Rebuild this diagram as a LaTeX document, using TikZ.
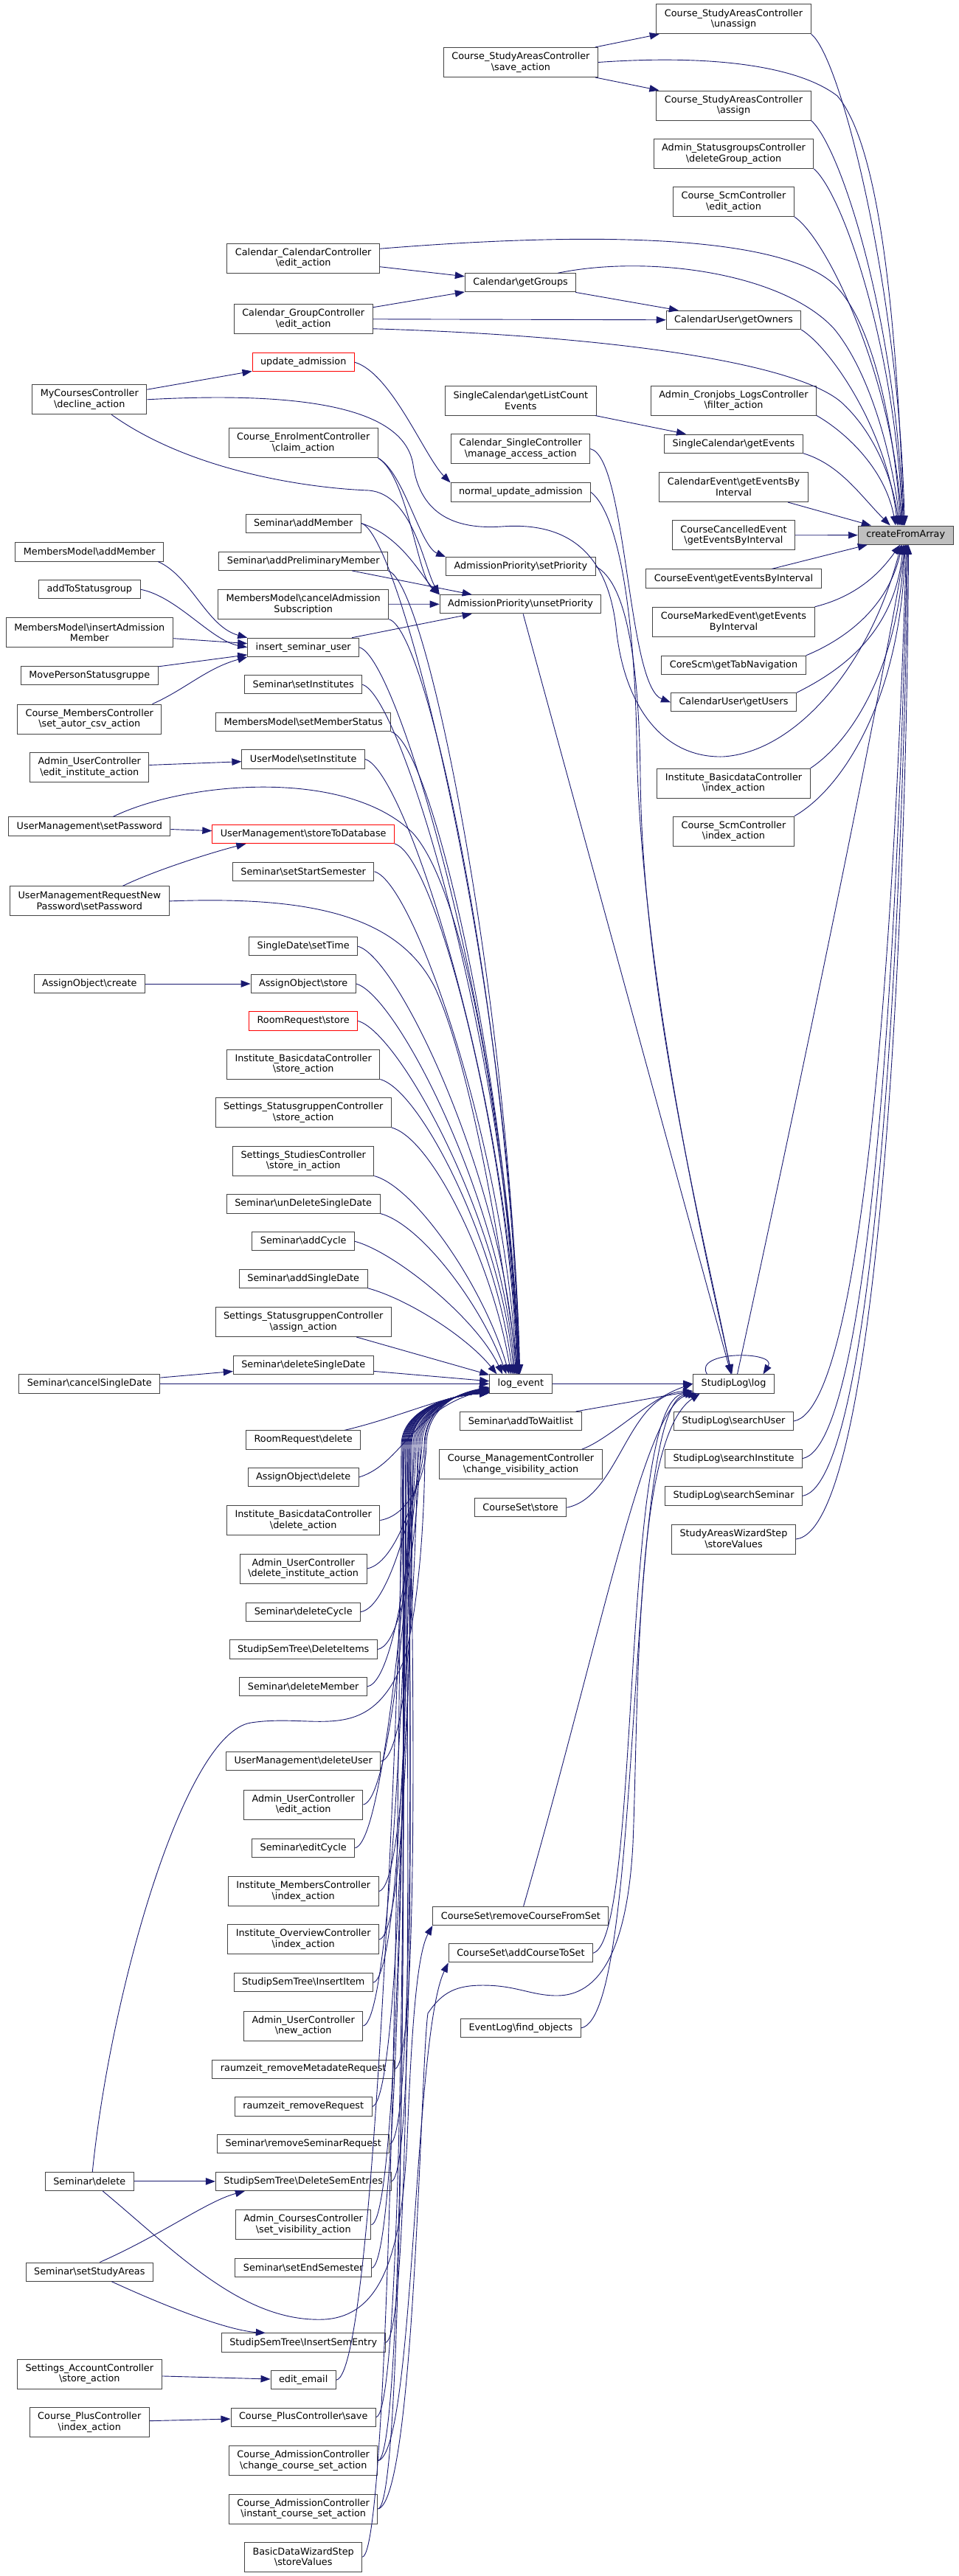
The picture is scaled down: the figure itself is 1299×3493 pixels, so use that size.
\documentclass[tikz,border=0pt]{standalone}
\usepackage{fontspec}
\setmainfont{DejaVu Sans}
\usepackage{tikz}
\usetikzlibrary{arrows.meta, positioning, calc}
\definecolor{edgeblue}{HTML}{191970}
\definecolor{nodeborder}{HTML}{444444}
\definecolor{rootfill}{HTML}{BFBFBF}
\newcommand{\bsl}{\textbackslash}
\newcommand{\dxfont}{\fontsize{12.8}{14.6}\selectfont}
\tikzset{
  fn/.style={rectangle, draw=nodeborder, fill=white, line width=1pt, minimum height=25.2pt, inner xsep=11pt, inner ysep=2pt, align=center, font=\dxfont},
  fn2/.style={fn, minimum height=40pt},
  trunc/.style={draw=red},
  root/.style={fill=rootfill},
  call/.style={draw=edgeblue, line width=0.9pt, -{Triangle[length=13pt,width=9.5pt]}},
}
\begin{document}
\begin{tikzpicture}[x=1pt,y=1pt]
\useasboundingbox (0,0) rectangle (1299,-3493);

% root
\node (cfa) [fn, root] at (1227.7,-725.6) {createFromArray};

% direct callers
\node (sacUnassign) [fn2] at (994.5,-25.8) {Course\_StudyAreasController\\\bsl unassign};
\node (sacAssign) [fn2] at (994.5,-143) {Course\_StudyAreasController\\\bsl assign};
\node (asgDeleteGroup) [fn2] at (994.5,-208.5) {Admin\_StatusgroupsController\\\bsl deleteGroup\_action};
\node (scmEdit) [fn2] at (994.5,-273.5) {Course\_ScmController\\\bsl edit\_action};
\node (calGetOwners) [fn] at (994.5,-434) {CalendarUser\bsl getOwners};
\node (cronFilter) [fn2] at (994.5,-543) {Admin\_Cronjobs\_LogsController\\\bsl filter\_action};
\node (scGetEvents) [fn] at (994.5,-601.6) {SingleCalendar\bsl getEvents};
\node (ceByInterval) [fn2] at (994.5,-660.5) {CalendarEvent\bsl getEventsBy\\Interval};
\node (cceByInterval) [fn2] at (994.5,-725.8) {CourseCancelledEvent\\\bsl getEventsByInterval};
\node (courseEvByInterval) [fn] at (994.5,-784.5) {CourseEvent\bsl getEventsByInterval};
\node (cmeByInterval) [fn2] at (994.5,-843.3) {CourseMarkedEvent\bsl getEvents\\ByInterval};
\node (coreTabNav) [fn] at (994.5,-901.9) {CoreScm\bsl getTabNavigation};
\node (calGetUsers) [fn] at (994.5,-952.3) {CalendarUser\bsl getUsers};
\node (ibdIndex) [fn2] at (994.5,-1062.2) {Institute\_BasicdataController\\\bsl index\_action};
\node (scmIndex) [fn2] at (994.5,-1127.1) {Course\_ScmController\\\bsl index\_action};
\node (slLog) [fn] at (994.5,-1876.4) {StudipLog\bsl log};
\node (slSearchUser) [fn] at (994.5,-1927) {StudipLog\bsl searchUser};
\node (slSearchInst) [fn] at (994.5,-1977.6) {StudipLog\bsl searchInstitute};
\node (slSearchSem) [fn] at (994.5,-2028.4) {StudipLog\bsl searchSeminar};
\node (sawStore) [fn2] at (994.5,-2087) {StudyAreasWizardStep\\\bsl storeValues};

% second rank
\node (sacSave) [fn2] at (705.9,-84.5) {Course\_StudyAreasController\\\bsl save\_action};
\node (calGetGroups) [fn] at (705.6,-383.3) {Calendar\bsl getGroups};
\node (scListCount) [fn2] at (705.9,-543) {SingleCalendar\bsl getListCount\\Events};
\node (csManage) [fn2] at (705.7,-608.6) {Calendar\_SingleController\\\bsl manage\_access\_action};
\node (normalUpd) [fn] at (705.9,-667.5) {normal\_update\_admission};
\node (apSet) [fn] at (705.9,-768.3) {AdmissionPriority\bsl setPriority};
\node (apUnset) [fn] at (705.6,-819.3) {AdmissionPriority\bsl unsetPriority};
\node (logEvent) [fn] at (705.9,-1876.4) {log\_event};
\node (semWaitlist) [fn] at (705.9,-1927) {Seminar\bsl addToWaitlist};
\node (cmcVisibility) [fn2] at (706,-1985.7) {Course\_ManagementController\\\bsl change\_visibility\_action};
\node (csStore) [fn] at (705.6,-2044.2) {CourseSet\bsl store};
\node (csRemove) [fn] at (705.9,-2597.9) {CourseSet\bsl removeCourseFromSet};
\node (csAdd) [fn] at (705.9,-2648.3) {CourseSet\bsl addCourseToSet};
\node (elFind) [fn] at (705.9,-2749.9) {EventLog\bsl find\_objects};

% third rank
\node (calCalEdit) [fn2] at (411.2,-350) {Calendar\_CalendarController\\\bsl edit\_action};
\node (calGroupEdit) [fn2] at (411.2,-432.5) {Calendar\_GroupController\\\bsl edit\_action};
\node (updAdmission) [fn, trunc] at (411.2,-491.2) {update\_admission};
\node (ecClaim) [fn2] at (411.2,-600.7) {Course\_EnrolmentController\\\bsl claim\_action};
\node (semAddMember) [fn] at (411.2,-709.6) {Seminar\bsl addMember};
\node (semAddPrelim) [fn] at (411.2,-760.8) {Seminar\bsl addPreliminaryMember};
\node (mmCancel) [fn2] at (411.2,-819.2) {MembersModel\bsl cancelAdmission\\Subscription};
\node (insSemUser) [fn] at (411.2,-877.8) {insert\_seminar\_user};
\node (semSetInst) [fn] at (411.2,-928.2) {Seminar\bsl setInstitutes};
\node (mmSetStatus) [fn] at (411.2,-979.2) {MembersModel\bsl setMemberStatus};
\node (umSetInst) [fn] at (411.2,-1029.5) {UserModel\bsl setInstitute};
\node (umStore) [fn, trunc] at (411.2,-1131.1) {UserManagement\bsl storeToDatabase};
\node (semStartSem) [fn] at (411.2,-1181.8) {Seminar\bsl setStartSemester};
\node (sdSetTime) [fn] at (411.2,-1283.2) {SingleDate\bsl setTime};
\node (aoStore) [fn] at (411.2,-1334) {AssignObject\bsl store};
\node (rrStore) [fn, trunc] at (411.2,-1384.4) {RoomRequest\bsl store};
\node (ibdStore) [fn2] at (411.2,-1443) {Institute\_BasicdataController\\\bsl store\_action};
\node (sgStore) [fn2] at (411.2,-1508.5) {Settings\_StatusgruppenController\\\bsl store\_action};
\node (stStoreIn) [fn2] at (411.2,-1574) {Settings\_StudiesController\\\bsl store\_in\_action};
\node (semUnDelete) [fn] at (411.2,-1632.4) {Seminar\bsl unDeleteSingleDate};
\node (semAddCycle) [fn] at (411.2,-1683.2) {Seminar\bsl addCycle};
\node (semAddSingle) [fn] at (411.2,-1733.6) {Seminar\bsl addSingleDate};
\node (sgAssign) [fn2] at (411.2,-1792.5) {Settings\_StatusgruppenController\\\bsl assign\_action};
\node (semDelSingle) [fn] at (411.2,-1851.2) {Seminar\bsl deleteSingleDate};
\node (rrDelete) [fn] at (411.2,-1952.4) {RoomRequest\bsl delete};
\node (aoDelete) [fn] at (411.2,-2003) {AssignObject\bsl delete};
\node (ibdDelete) [fn2] at (411.2,-2061.5) {Institute\_BasicdataController\\\bsl delete\_action};
\node (aucDelInst) [fn2] at (411.2,-2127) {Admin\_UserController\\\bsl delete\_institute\_action};
\node (semDelCycle) [fn] at (411.2,-2185.7) {Seminar\bsl deleteCycle};
\node (sstDelItems) [fn] at (411.2,-2236.5) {StudipSemTree\bsl DeleteItems};
\node (semDelMember) [fn] at (411.2,-2286.9) {Seminar\bsl deleteMember};
\node (umDelUser) [fn] at (411.2,-2388.3) {UserManagement\bsl deleteUser};
\node (aucEdit) [fn2] at (411.2,-2447) {Admin\_UserController\\\bsl edit\_action};
\node (semEditCycle) [fn] at (411.2,-2505.7) {Seminar\bsl editCycle};
\node (imIndex) [fn2] at (411.2,-2564.5) {Institute\_MembersController\\\bsl index\_action};
\node (ioIndex) [fn2] at (411.2,-2629.8) {Institute\_OverviewController\\\bsl index\_action};
\node (sstInsItem) [fn] at (411.2,-2688.2) {StudipSemTree\bsl InsertItem};
\node (aucNew) [fn2] at (411.2,-2747) {Admin\_UserController\\\bsl new\_action};
\node (rzMetadate) [fn] at (411.2,-2805.6) {raumzeit\_removeMetadateRequest};
\node (rzRequest) [fn] at (411.2,-2856.4) {raumzeit\_removeRequest};
\node (semRemoveReq) [fn] at (411.2,-2907.3) {Seminar\bsl removeSeminarRequest};
\node (sstDelSem) [fn] at (411.2,-2957.9) {StudipSemTree\bsl DeleteSemEntries};
\node (acSetVis) [fn2] at (411.2,-3016.7) {Admin\_CoursesController\\\bsl set\_visibility\_action};
\node (semEndSem) [fn] at (411.2,-3075.3) {Seminar\bsl setEndSemester};
\node (sstInsSem) [fn] at (411.2,-3176.5) {StudipSemTree\bsl InsertSemEntry};
\node (editEmail) [fn] at (411.2,-3227.2) {edit\_email};
\node (cpSave) [fn] at (411.2,-3277.6) {Course\_PlusController\bsl save};
\node (caChange) [fn2] at (411.2,-3336.7) {Course\_AdmissionController\\\bsl change\_course\_set\_action};
\node (caInstant) [fn2] at (411.2,-3402) {Course\_AdmissionController\\\bsl instant\_course\_set\_action};
\node (bdwStore) [fn2] at (411.2,-3467.2) {BasicDataWizardStep\\\bsl storeValues};

% outer rank
\node (mcDecline) [fn2] at (121.3,-541.8) {MyCoursesController\\\bsl decline\_action};
\node (mmAddMember) [fn] at (121.3,-748.4) {MembersModel\bsl addMember};
\node (addToStatusgroup) [fn] at (121.3,-799.2) {addToStatusgroup};
\node (mmInsert) [fn2] at (121.3,-857.9) {MembersModel\bsl insertAdmission\\Member};
\node (movePerson) [fn] at (121.3,-916.2) {MovePersonStatusgruppe};
\node (cmSetAutor) [fn2] at (121.3,-975.1) {Course\_MembersController\\\bsl set\_autor\_csv\_action};
\node (aucEditInst) [fn2] at (121.3,-1040.5) {Admin\_UserController\\\bsl edit\_institute\_action};
\node (umSetPw) [fn] at (121.3,-1120.5) {UserManagement\bsl setPassword};
\node (umrSetPw) [fn2] at (121.3,-1221.9) {UserManagementRequestNew\\Password\bsl setPassword};
\node (aoCreate) [fn] at (121.3,-1334) {AssignObject\bsl create};
\node (semCancelSingle) [fn] at (121.3,-1876.4) {Seminar\bsl cancelSingleDate};
\node (semDelete) [fn] at (121.3,-2957.9) {Seminar\bsl delete};
\node (semSetStudy) [fn] at (121.3,-3080.6) {Seminar\bsl setStudyAreas};
\node (sacStore) [fn2] at (121.3,-3219.2) {Settings\_AccountController\\\bsl store\_action};
\node (cpIndex) [fn2] at (121.3,-3284.6) {Course\_PlusController\\\bsl index\_action};

% calls into createFromArray
\draw [call] (sacUnassign.south east) .. controls +(40,-30) and +(-8,320) .. (cfa.96);
\draw [call] (sacSave.east) .. controls (960,-74) and (1080,-88) .. (1135,-130) .. controls (1195,-200) and (1216,-450) .. (cfa.100);
\draw [call] (sacAssign.south east) .. controls +(40,-35) and +(-10,280) .. (cfa.104);
\draw [call] (asgDeleteGroup.south east) .. controls +(40,-35) and +(-10,240) .. (cfa.108);
\draw [call] (scmEdit.south east) .. controls +(45,-30) and +(-12,200) .. (cfa.112);
\draw [call] (calCalEdit.7) .. controls (850,-310) and (1075,-325) .. (1135,-390) .. controls (1190,-450) and (1213,-600) .. (cfa.116);
\draw [call] ([xshift=-25pt]calGetGroups.north east) .. controls (880,-345) and (1060,-370) .. (1130,-445) .. controls (1180,-505) and (1210,-620) .. (cfa.120);
\draw [call] (calGroupEdit.-8) .. controls (820,-455) and (1075,-490) .. (1140,-545) .. controls (1190,-590) and (1212,-660) .. (cfa.125);
\draw [call] (calGetOwners.south east) .. controls +(40,-25) and +(-15,130) .. (cfa.130);
\draw [call] (cronFilter.south east) .. controls +(35,-20) and +(-15,80) .. (cfa.136);
\draw [call] (scGetEvents.south east) .. controls +(50,-15) and +(-40,40) .. (cfa.148);
\draw [call] (ceByInterval) -- (cfa);
\draw [call] (cceByInterval) -- (cfa);
\draw [call] (courseEvByInterval) -- (cfa);
\draw [call] (cmeByInterval.north east) .. controls +(60,15) and +(-25,-35) .. (cfa.240);
\draw [call] (coreTabNav.north east) .. controls +(60,25) and +(-18,-80) .. (cfa.250);
\draw [call] (calGetUsers.north east) .. controls +(60,30) and +(-12,-120) .. (cfa.256);
\draw [call] (ibdIndex.north east) .. controls +(60,40) and +(-8,-160) .. (cfa.262);
\draw [call] (scmIndex.north east) .. controls +(70,40) and +(-5,-200) .. (cfa.266);
\draw [call] ([xshift=5pt]slLog.north) .. controls (1100,-1400) and (1192,-950) .. (cfa.270);
\draw [call] (slSearchUser.east) .. controls (1175,-1910) and (1215,-1200) .. (cfa.274);
\draw [call] (slSearchInst.east) .. controls (1185,-1960) and (1220,-1200) .. (cfa.278);
\draw [call] (slSearchSem.east) .. controls (1190,-2010) and (1225,-1200) .. (cfa.282);
\draw [call] (sawStore.east) .. controls (1195,-2075) and (1230,-1200) .. (cfa.286);
\draw [call] (mcDecline.east) .. controls (420,-530) and (548,-555) .. (560,-630) .. controls (570,-700) and (620,-718) .. (680,-714) .. controls (760,-708) and (822,-740) .. (835,-850) .. controls (846,-960) and (900,-1028) .. (980,-1026) .. controls (1080,-1020) and (1180,-900) .. (cfa.245);

% upper calls
\draw [call] (sacSave) -- (sacUnassign);
\draw [call] (sacSave) -- (sacAssign);
\draw [call] (calCalEdit) -- (calGetGroups);
\draw [call] (calGroupEdit) -- (calGetGroups);
\draw [call] (calGroupEdit) -- (calGetOwners);
\draw [call] (calGetGroups) -- (calGetOwners);
\draw [call] (scListCount) -- (scGetEvents);
\draw [call] (mcDecline) -- (updAdmission);
\draw [call] ([xshift=-48pt]mcDecline.south east) .. controls (260,-640) and (420,-662) .. (500,-665) .. controls (560,-670) and (575,-770) .. (apUnset.north west);
\draw [call] (updAdmission.east) .. controls +(50,-15) and +(-35,35) .. (normalUpd.north west);
\draw [call] (ecClaim.south east) .. controls +(35,-20) and +(-35,15) .. (apSet.north west);
\draw [call] (ecClaim.south east) .. controls +(40,-25) and +(-30,25) .. (apUnset.north west);
\draw [call] (semAddMember.east) .. controls +(55,-18) and +(-25,25) .. (apUnset.north west);
\draw [call] (semAddPrelim) -- (apUnset);
\draw [call] (mmCancel) -- (apUnset);
\draw [call] (insSemUser) -- (apUnset);
\draw [call] (csManage.east) .. controls (850,-620) and (850,-930) .. (calGetUsers.west);
\draw [call] (normalUpd.east) .. controls (842,-700) and (860,-850) .. (863,-1000) .. controls (866,-1300) and (955,-1700) .. (slLog.100);
\draw [call] (apSet.east) .. controls (850,-790) and (866,-900) .. (868,-1050) .. controls (870,-1350) and (960,-1700) .. (slLog.104);
\draw [call] (apUnset) -- (slLog);

% members
\draw [call] ([xshift=-8pt]mmAddMember.south east) .. controls +(45,-20) and +(-55,15) .. (insSemUser.north west);
\draw [call] (addToStatusgroup.east) .. controls +(50,-10) and +(-50,10) .. (insSemUser.west);
\draw [call] (mmInsert) -- (insSemUser);
\draw [call] (movePerson) -- (insSemUser);
\draw [call] ([xshift=-13pt]cmSetAutor.north east) .. controls +(45,20) and +(-55,-15) .. (insSemUser.south west);
\draw [call] (aucEditInst) -- (umSetInst);
\draw [call] (umSetPw) -- (umStore);
\draw [call] ([xshift=45pt]umrSetPw.north) .. controls (210,-1180) and (290,-1155) .. ([xshift=46pt]umStore.south west);
\draw [call] (aoCreate) -- (aoStore);

% into log_event from above
\draw [call] ([xshift=32pt]umSetPw.north) .. controls (250,-1060) and (470,-1040) .. (560,-1130) .. controls (640,-1220) and (690,-1600) .. (logEvent.100);
\draw [call] (umrSetPw.east) .. controls (420,-1215) and (540,-1240) .. (590,-1340) .. controls (640,-1450) and (680,-1700) .. (logEvent.104);
\draw [call] (semAddMember.east) .. controls +(55,-15) and +(-12,520) .. (logEvent.95);
\draw [call] (semAddPrelim.south east) .. controls +(55,-15) and +(-12,490) .. (logEvent.97);
\draw [call] (mmCancel.south east) .. controls +(55,-15) and +(-12,460) .. (logEvent.99);
\draw [call] (insSemUser.east) .. controls +(55,-15) and +(-12,440) .. (logEvent.101);
\draw [call] (semSetInst.east) .. controls +(55,-15) and +(-12,420) .. (logEvent.103);
\draw [call] (mmSetStatus.south east) .. controls +(55,-15) and +(-12,390) .. (logEvent.105);
\draw [call] (umSetInst.east) .. controls +(55,-15) and +(-12,375) .. (logEvent.107);
\draw [call] (umStore.south east) .. controls +(55,-15) and +(-12,320) .. (logEvent.110);
\draw [call] (semStartSem.east) .. controls +(55,-15) and +(-15,300) .. (logEvent.113);
\draw [call] (sdSetTime.east) .. controls +(55,-15) and +(-15,260) .. (logEvent.117);
\draw [call] (aoStore.east) .. controls +(55,-15) and +(-18,235) .. (logEvent.121);
\draw [call] (rrStore.east) .. controls +(55,-15) and +(-20,215) .. (logEvent.125);
\draw [call] (ibdStore.south east) .. controls +(55,-15) and +(-22,180) .. (logEvent.130);
\draw [call] (sgStore.south east) .. controls +(55,-15) and +(-25,150) .. (logEvent.135);
\draw [call] (stStoreIn.south east) .. controls +(55,-15) and +(-35,120) .. (logEvent.140);
\draw [call] (semUnDelete.south east) .. controls +(55,-15) and +(-35,95) .. (logEvent.146);
\draw [call] (semAddCycle.east) .. controls +(55,-15) and +(-35,75) .. (logEvent.152);
\draw [call] (semAddSingle.south east) .. controls +(55,-15) and +(-40,50) .. (logEvent.158);
\draw [call] (sgAssign) -- (logEvent);
\draw [call] (semDelSingle) -- (logEvent);
\draw [call] (semCancelSingle) -- (semDelSingle);
\draw [call] (semCancelSingle) -- (logEvent);

% into log_event from below
\draw [call] ([xshift=-22pt]rrDelete.north east) .. controls (540,-1922) and (590,-1897) .. (logEvent.192);
\draw [call] (aoDelete.east) .. controls (545,-1985) and (560,-1910) .. (logEvent.190);
\draw [call] (ibdDelete.east) .. controls +(45,8) and (578,-1990) .. (578,-1960) .. controls (578,-1925) and (600,-1893) .. (logEvent.186);
\draw [call] (aucDelInst.east) .. controls +(45,8) and (575,-1990) .. (575,-1960) .. controls (575,-1922) and (600,-1893) .. (logEvent.187);
\draw [call] (semDelCycle.east) .. controls +(45,8) and (572,-1990) .. (572,-1960) .. controls (572,-1922) and (600,-1893) .. (logEvent.188);
\draw [call] (sstDelItems.east) .. controls +(45,8) and (570,-1990) .. (570,-1960) .. controls (570,-1920) and (600,-1893) .. (logEvent.189);
\draw [call] (semDelMember.east) .. controls +(45,8) and (568,-1990) .. (568,-1960) .. controls (568,-1920) and (600,-1893) .. (logEvent.190);
\draw [call] (umDelUser.east) .. controls +(45,8) and (566,-1990) .. (566,-1960) .. controls (566,-1920) and (600,-1893) .. (logEvent.191);
\draw [call] (aucEdit.east) .. controls +(45,8) and (564,-1990) .. (564,-1960) .. controls (564,-1920) and (600,-1893) .. (logEvent.192);
\draw [call] (semEditCycle.east) .. controls +(45,8) and (562,-1990) .. (562,-1960) .. controls (562,-1920) and (600,-1893) .. (logEvent.193);
\draw [call] (imIndex.east) .. controls +(45,8) and (560,-1990) .. (560,-1960) .. controls (560,-1920) and (600,-1893) .. (logEvent.193);
\draw [call] (ioIndex.east) .. controls +(45,8) and (558,-1990) .. (558,-1960) .. controls (558,-1918) and (600,-1893) .. (logEvent.194);
\draw [call] (sstInsItem.east) .. controls +(45,8) and (557,-1990) .. (557,-1960) .. controls (557,-1918) and (600,-1893) .. (logEvent.194);
\draw [call] (aucNew.east) .. controls +(45,8) and (556,-1990) .. (556,-1960) .. controls (556,-1918) and (600,-1893) .. (logEvent.195);
\draw [call] (rzMetadate.east) .. controls +(40,8) and (555,-1990) .. (555,-1960) .. controls (555,-1918) and (600,-1893) .. (logEvent.195);
\draw [call] (rzRequest.east) .. controls +(45,8) and (554,-1990) .. (554,-1960) .. controls (554,-1916) and (600,-1893) .. (logEvent.195);
\draw [call] (semRemoveReq.east) .. controls +(40,8) and (553,-1990) .. (553,-1960) .. controls (553,-1916) and (600,-1893) .. (logEvent.196);
\draw [call] (sstDelSem.east) .. controls +(40,8) and (552,-1990) .. (552,-1960) .. controls (552,-1916) and (600,-1893) .. (logEvent.196);
\draw [call] (acSetVis.east) .. controls +(45,8) and (551,-1990) .. (551,-1960) .. controls (551,-1916) and (600,-1893) .. (logEvent.196);
\draw [call] (semEndSem.east) .. controls +(45,8) and (550,-1990) .. (550,-1960) .. controls (550,-1915) and (600,-1893) .. (logEvent.196);
\draw [call] (sstInsSem.east) .. controls +(45,8) and (549,-1990) .. (549,-1960) .. controls (549,-1915) and (600,-1893) .. (logEvent.196);
\draw [call] (editEmail.east) .. controls +(60,8) and (548,-1990) .. (548,-1960) .. controls (548,-1915) and (600,-1893) .. (logEvent.196);
\draw [call] (cpSave.east) .. controls +(45,8) and (547,-1990) .. (547,-1960) .. controls (547,-1915) and (600,-1893) .. (logEvent.196);
\draw [call] (caChange.east) .. controls +(45,8) and (546,-1990) .. (546,-1960) .. controls (546,-1915) and (600,-1893) .. (logEvent.196);
\draw [call] (caInstant.east) .. controls +(45,8) and (545,-1990) .. (545,-1960) .. controls (545,-1915) and (600,-1893) .. (logEvent.196);
\draw [call] (bdwStore.east) .. controls +(45,8) and (544,-1990) .. (544,-1960) .. controls (544,-1915) and (600,-1893) .. (logEvent.196);
\draw [call] ([xshift=4pt]semDelete.north) .. controls (150,-2700) and (250,-2350) .. (340,-2336) .. controls (430,-2322) and (500,-2370) .. (548,-2250) .. controls (575,-2150) and (576,-1990) .. (576,-1960) .. controls (576,-1922) and (600,-1893) .. (logEvent.188);

% semester tree
\draw [call] (semDelete) -- (sstDelSem);
\draw [call] ([xshift=14pt]semSetStudy.north) .. controls (220,-3030) and (280,-2985) .. ([xshift=40pt]sstDelSem.south west);
\draw [call] ([xshift=30pt]semSetStudy.south) .. controls (230,-3130) and (310,-3160) .. ([xshift=60pt]sstInsSem.north west);
\draw [call] (sacStore) -- (editEmail);
\draw [call] (cpIndex) -- (cpSave);

% course sets
\draw [call] ([xshift=18pt]semDelete.south) .. controls (240,-3055) and (330,-3150) .. (440,-3145) .. controls (520,-3140) and (545,-3050) .. (552,-2900) .. controls (558,-2750) and (565,-2650) .. (csRemove.south west);
\draw [call] (caChange.east) .. controls +(50,12) and (560,-2760) .. (csAdd.south west);

% into StudipLog\log
\draw [call] (logEvent) -- (slLog);
\draw [call] (semWaitlist) -- (slLog);
\draw [call] ([xshift=-28pt]cmcVisibility.north east) .. controls +(40,15) and +(-60,-20) .. (slLog.west);
\draw [call] (csStore.east) .. controls (840,-2030) and (850,-1890) .. (slLog.190);
\draw [call] (csRemove) .. controls (820,-2200) and (875,-1900) .. (slLog.195);
\draw [call] (csAdd.east) .. controls (870,-2630) and (840,-1900) .. (slLog.192);
\draw [call] (elFind.east) .. controls (875,-2735) and (845,-1900) .. (slLog.194);
\draw [call] (caInstant.east) .. controls +(50,12) and (570,-2800) .. (580,-2730) .. controls (600,-2700) and (620,-2692) .. (655,-2692) .. controls (700,-2692) and (720,-2706) .. (755,-2706) .. controls (810,-2706) and (850,-2650) .. (858,-2500) .. controls (866,-2300) and (860,-1950) .. (slLog.196);
\draw [call] ([xshift=-36pt]slLog.north) .. controls +(-20,32) and +(20,32) .. ([xshift=40pt]slLog.north);
\end{tikzpicture}
\end{document}
